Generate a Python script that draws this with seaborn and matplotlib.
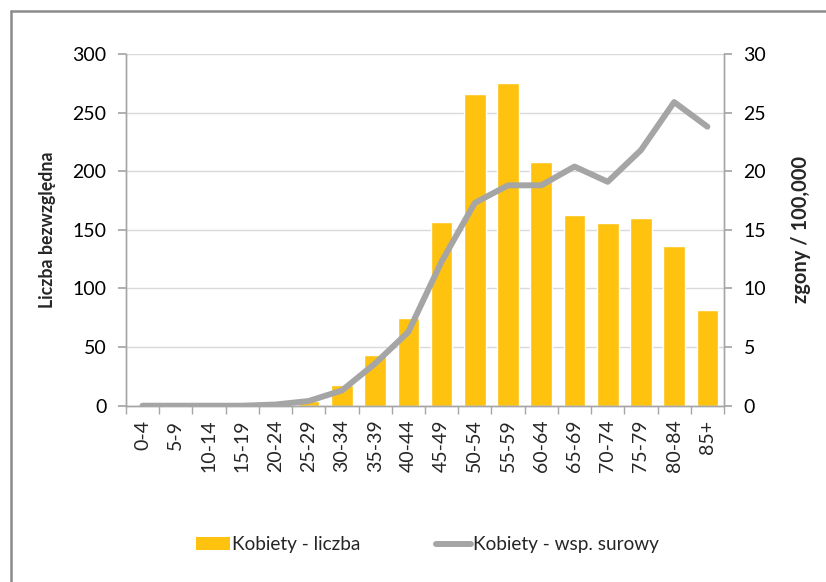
import numpy as np
import pandas as pd
import matplotlib
matplotlib.use("Agg")
import matplotlib.pyplot as plt
from matplotlib.patches import Patch
from matplotlib.lines import Line2D
from matplotlib.ticker import FixedLocator, MultipleLocator
import seaborn as sns

# ---- data ----
age_groups = ["0-4", "5-9", "10-14", "15-19", "20-24", "25-29", "30-34", "35-39",
              "40-44", "45-49", "50-54", "55-59", "60-64", "65-69", "70-74",
              "75-79", "80-84", "85+"]
counts = [0, 0, 0, 0, 1, 4, 18, 43, 75, 157, 266, 275, 208, 163, 156, 160, 136, 82]
rates = [0, 0, 0, 0, 0.1, 0.4, 1.3, 3.6, 6.3, 12.3, 17.3, 18.8, 18.8, 20.4, 19.1, 21.8, 25.9, 23.8]

left_label = "Liczba bezwzględna"
right_label = "zgony / 100,000"
bar_name = "Kobiety - liczba"
line_name = "Kobiety - wsp. surowy"

BAR_COLOR = "#FEC20F"
LINE_COLOR = "#A5A5A5"
AXIS_COLOR = "#A6A6A6"
GRID_COLOR = "#D9D9D9"

df = pd.DataFrame({"age": age_groups, "count": counts, "rate": rates})

sns.set_theme(style="white")
plt.rcParams["font.family"] = ["Lato", "DejaVu Sans"]

fig = plt.figure(figsize=(8.26, 5.82), dpi=100)
ax = fig.add_axes([0.1525, 0.3029, 0.8765 - 0.1525, 0.9072 - 0.3029])

sns.barplot(data=df, x="age", y="count", color=BAR_COLOR, width=0.65,
            saturation=1, ax=ax, zorder=2)
ax.set_ylim(0, 300)
ax.yaxis.set_major_locator(MultipleLocator(50))
ax.grid(axis="y", color=GRID_COLOR, linewidth=1.0, zorder=0)
ax.set_axisbelow(True)
ax.set_xlabel("")
ax.set_ylabel(left_label, fontsize=12.8, fontweight="bold", labelpad=12)
ax.set_xlim(-0.5, len(age_groups) - 0.5)

ax2 = ax.twinx()
sns.lineplot(data=df, x="age", y="rate", sort=False, color=LINE_COLOR,
             linewidth=4.3, ax=ax2, zorder=3)
for l in ax2.lines:
    l.set_solid_joinstyle("round")
    l.set_solid_capstyle("round")
ax2.set_ylim(0, 30)
ax2.yaxis.set_major_locator(MultipleLocator(5))
ax2.set_ylabel(right_label, fontsize=14.5, fontweight="bold", labelpad=18)
ax2.set_xlim(-0.5, len(age_groups) - 0.5)
ax2.grid(False)

for a in (ax, ax2):
    a.spines["top"].set_visible(False)
    for s in ("left", "right", "bottom"):
        a.spines[s].set_color(AXIS_COLOR)
        a.spines[s].set_linewidth(1.0)

ax.tick_params(axis="y", which="major", length=6, color=AXIS_COLOR, labelsize=14,
               pad=8, labelcolor="black", left=True)
ax2.tick_params(axis="y", which="major", length=6, color=AXIS_COLOR, labelsize=14,
                pad=8, labelcolor="black", right=True)
ax.set_xticks(range(len(age_groups)))
ax.set_xticklabels(age_groups, rotation=90, fontsize=14)
ax.tick_params(axis="x", which="major", length=0, pad=10)
ax.xaxis.set_minor_locator(FixedLocator(np.arange(-0.5, len(age_groups), 1.0)))
ax.tick_params(axis="x", which="minor", length=6, color=AXIS_COLOR, bottom=True)
ax2.tick_params(axis="x", which="both", length=0)

# legend
handles = [Patch(facecolor=BAR_COLOR, edgecolor="none"),
           Line2D([0], [0], color=LINE_COLOR, linewidth=4.3, solid_capstyle="round")]
fig.legend(handles, [bar_name, line_name], loc="center", bbox_to_anchor=(0.517, 0.0636),
           ncol=2, frameon=False, fontsize=13.7, handlelength=1.8, handletextpad=0.1,
           columnspacing=4.0)

# chart-area frame (left and top edges)
fig.add_artist(Line2D([11 / 826, 11 / 826], [0, 1 - 11 / 582], transform=fig.transFigure,
                      color="#8C8C8C", linewidth=1.8))
fig.add_artist(Line2D([11 / 826, 1], [1 - 11 / 582, 1 - 11 / 582], transform=fig.transFigure,
                      color="#8C8C8C", linewidth=1.8))

fig.savefig("out.png", dpi=100, facecolor="white")
